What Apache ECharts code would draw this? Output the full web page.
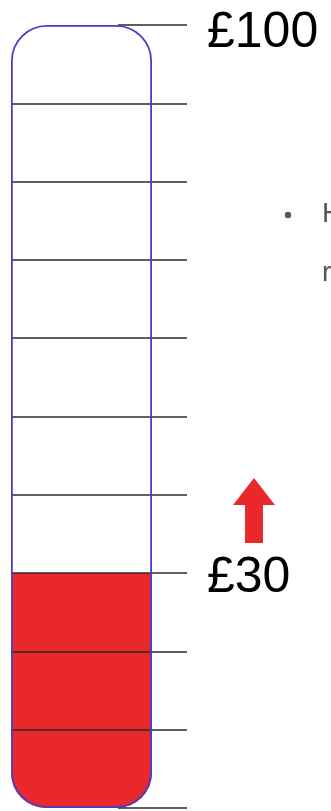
<!DOCTYPE html>
<html>
<head>
<meta charset="utf-8">
<style>
  html, body { margin: 0; padding: 0; background: #ffffff; }
  #chart { width: 331px; height: 811px; }
</style>
<script src="https://cdn.jsdelivr.net/npm/echarts@6/dist/echarts.min.js"></script>
</head>
<body>
<div id="chart"></div>
<script>
// Fundraising thermometer: amount raised against the target
const categories = ['Raised'];
const raised = [30];
const target = [100];
const scaleMin = 0;
const scaleMax = 100;
const scaleStep = 10;
const labeledTicks = [100, 30];
const tickLabels = { 100: '£100', 30: '£30' };

const RED = '#e8282a';
const BLUE = '#4242c6';
const LINE = '#2a2a2a';
const RADIUS = 35;
const FONT = '"Liberation Sans", Arial, sans-serif';

// inner scale lines cross the tube; the end lines only show beside its rounded caps
const tickCount = (scaleMax - scaleMin) / scaleStep + 1;
const innerColors = [], endColors = [];
for (let i = 0; i < tickCount; i++) {
  const isEnd = (i === 0 || i === tickCount - 1);
  innerColors.push(isEnd ? 'rgba(0,0,0,0)' : LINE);
  endColors.push(isEnd ? LINE : 'rgba(0,0,0,0)');
}

const chart = echarts.init(document.getElementById('chart'), null, { renderer: 'canvas' });

const option = {
  animation: false,
  backgroundColor: '#ffffff',
  grid: [
    { left: 11, right: 144, top: 25, bottom: 3 },   // inner scale lines + labels
    { left: 11, right: 179, top: 25, bottom: 3 },   // the tube
    { left: 118, right: 144, top: 25, bottom: 3 }   // end lines
  ],
  xAxis: [
    { type: 'category', gridIndex: 0, data: categories, show: false },
    { type: 'category', gridIndex: 1, data: categories, show: false },
    { type: 'category', gridIndex: 2, data: categories, show: false }
  ],
  yAxis: [
    {
      type: 'value', gridIndex: 0, position: 'right',
      min: scaleMin, max: scaleMax, interval: scaleStep, z: 3,
      axisLine: { show: false }, axisTick: { show: false },
      splitLine: { show: true, lineStyle: { color: innerColors, width: 1.5 } },
      axisLabel: {
        margin: 20,
        fontFamily: FONT,
        fontSize: 50,
        color: '#000000',
        formatter: function (v) {
          if (labeledTicks.indexOf(v) < 0) return '';
          return '{t' + v + '|' + tickLabels[v] + '}';
        },
        rich: {
          t100: { fontSize: 50, color: '#000', fontFamily: FONT, padding: [16, 0, 0, 0] },
          t30: { fontSize: 50, color: '#000', fontFamily: FONT, padding: [11, 0, 0, 0] }
        }
      }
    },
    {
      type: 'value', gridIndex: 1, min: scaleMin, max: scaleMax, interval: scaleStep,
      show: false, splitLine: { show: false }
    },
    {
      type: 'value', gridIndex: 2, min: scaleMin, max: scaleMax, interval: scaleStep, z: 3,
      axisLine: { show: false }, axisTick: { show: false }, axisLabel: { show: false },
      splitLine: { show: true, lineStyle: { color: endColors, width: 1.5 } }
    }
  ],
  series: [
    {
      name: 'Raised', type: 'bar', xAxisIndex: 1, yAxisIndex: 1,
      data: raised, barWidth: '100%', z: 2,
      itemStyle: { color: RED, borderRadius: [0, 0, RADIUS, RADIUS] }
    },
    {
      name: 'Target', type: 'bar', xAxisIndex: 1, yAxisIndex: 1,
      data: target, barWidth: '100%', barGap: '-100%', z: 5,
      itemStyle: { color: 'rgba(0,0,0,0)', borderColor: BLUE, borderWidth: 1.8, borderRadius: RADIUS }
    }
  ],
  graphic: [
    {
      type: 'polygon', z: 10,
      shape: { points: [[254, 478], [275, 505], [263, 505], [263, 543], [245, 543], [245, 505], [233, 505]] },
      style: { fill: RED }
    },
    {
      type: 'circle', z: 10,
      shape: { cx: 288, cy: 215, r: 3.2 },
      style: { fill: '#555555' }
    },
    {
      type: 'text', z: 10, left: 322, top: 200,
      style: { text: 'H', fill: '#555555', font: '28px ' + FONT }
    },
    {
      type: 'text', z: 10, left: 322, top: 259,
      style: { text: 'r', fill: '#555555', font: '28px ' + FONT }
    }
  ]
};

chart.setOption(option);
</script>
</body>
</html>
